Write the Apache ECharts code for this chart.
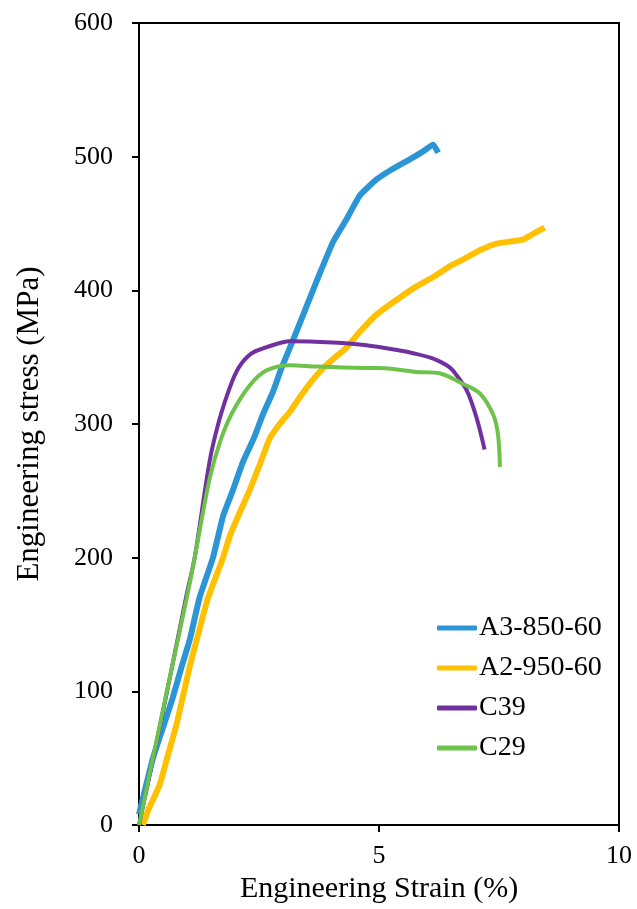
<!DOCTYPE html>
<html>
<head>
<meta charset="utf-8">
<script src="https://cdn.jsdelivr.net/npm/echarts@6/dist/echarts.min.js"></script>
<style>
html,body{margin:0;padding:0;background:#fff;}
#chart{width:637px;height:909px;}
</style>
</head>
<body>
<div id="chart"></div>
<script>
// Engineering strain (%) / stress (MPa)
var seriesNames = ['A3-850-60', 'A2-950-60', 'C39', 'C29'];

var a3Strain = [0, 0.15, 0.29, 0.5, 0.70, 0.9, 1.06, 1.26, 1.54, 1.75, 1.95, 2.17, 2.4, 2.58, 2.79, 2.97, 3.2, 3.49, 3.77, 4.04, 4.32, 4.60, 4.95, 5.29, 5.64, 5.92, 6.13, 6.23];
var a3Stress = [8, 30, 50, 73, 95, 120, 139, 170, 200, 231, 250, 272, 290, 307, 324, 342, 362, 388, 413, 436, 453, 471, 483, 491, 498, 504, 509, 503];

var a2Strain = [0.08, 0.2, 0.43, 0.6, 0.78, 1.06, 1.25, 1.43, 1.75, 1.89, 2.1, 2.31, 2.52, 2.72, 2.93, 3.14, 3.35, 3.62, 3.90, 4.12, 4.32, 4.60, 4.95, 5.37, 5.78, 6.13, 6.47, 6.75, 7.1, 7.45, 8.0, 8.2, 8.45];
var a2Stress = [0, 12, 30, 52, 75, 119, 145, 169, 200, 216, 234, 251, 270, 289, 300, 309, 320, 333, 344, 351, 357, 369, 382, 393, 403, 410, 418, 423, 430, 435, 438, 442, 447];

var c39Strain = [0, 0.5, 0.99, 1.16, 1.47, 1.65, 1.83, 2.0, 2.15, 2.35, 2.7, 3.14, 4.04, 4.74, 5.43, 5.71, 6.13, 6.41, 6.54, 6.83, 7.03, 7.20];
var c39Stress = [0, 85, 172, 200, 272, 300, 321, 337, 346, 353, 358, 362, 361, 359, 355, 353, 349, 344, 340, 325, 305, 281];

var c29Strain = [0, 0.58, 0.99, 1.16, 1.47, 1.7, 1.95, 2.31, 2.65, 3.14, 3.70, 4.74, 5.01, 5.78, 6.26, 6.75, 7.10, 7.38, 7.48, 7.52];
var c29Stress = [0, 100, 169, 200, 259, 288, 309, 329, 340, 344, 343, 342, 342, 339, 338, 330, 323, 307, 292, 268];

var xTicks = [0, 5, 10];
var yTicks = [0, 100, 200, 300, 400, 500, 600];

function pairs(xs, ys) {
  var out = [];
  for (var i = 0; i < xs.length; i++) out.push([xs[i], ys[i]]);
  return out;
}

var font = '"Liberation Serif", "Times New Roman", serif';
var colors = ['#2B95D5', '#FFC000', '#7030A0', '#6DC249'];

var chart = echarts.init(document.getElementById('chart'), null, {renderer: 'canvas'});
chart.setOption({
  animation: false,
  backgroundColor: '#fff',
  color: colors,
  grid: {left: 139, right: 18, top: 23, bottom: 83, show: true, borderColor: '#000', borderWidth: 2, backgroundColor: 'transparent'},
  legend: {
    orient: 'vertical', left: 432, top: 609,
    icon: 'roundRect', itemWidth: 40, itemHeight: 5, itemGap: 12,
    textStyle: {fontFamily: font, fontSize: 28, color: '#000', padding: [0, 0, 0, -3]},
    data: seriesNames
  },
  xAxis: {
    type: 'value', min: xTicks[0], max: xTicks[xTicks.length - 1], interval: 5,
    name: 'Engineering Strain (%)', nameLocation: 'middle', nameGap: 47,
    nameTextStyle: {fontFamily: font, fontSize: 30, color: '#000'},
    axisLine: {show: true, lineStyle: {color: '#000', width: 2}},
    axisTick: {show: true, inside: false, length: 7, lineStyle: {color: '#000', width: 2}},
    axisLabel: {fontFamily: font, fontSize: 26, color: '#000', margin: 18},
    splitLine: {show: false}
  },
  yAxis: {
    type: 'value', min: yTicks[0], max: yTicks[yTicks.length - 1], interval: 100,
    name: 'Engineering stress (MPa)', nameLocation: 'middle', nameGap: 94,
    nameTextStyle: {fontFamily: font, fontSize: 31, color: '#000'},
    axisLine: {show: true, lineStyle: {color: '#000', width: 2}},
    axisTick: {show: true, inside: false, length: 7, lineStyle: {color: '#000', width: 2}},
    axisLabel: {fontFamily: font, fontSize: 26, color: '#000', margin: 26},
    splitLine: {show: false}
  },
  series: [
    {name: seriesNames[0], type: 'line', showSymbol: false, smooth: 0.15, data: pairs(a3Strain, a3Stress), lineStyle: {width: 6}},
    {name: seriesNames[1], type: 'line', showSymbol: false, smooth: 0.15, data: pairs(a2Strain, a2Stress), lineStyle: {width: 6}},
    {name: seriesNames[2], type: 'line', showSymbol: false, smooth: 0.3, data: pairs(c39Strain, c39Stress), lineStyle: {width: 4}},
    {name: seriesNames[3], type: 'line', showSymbol: false, smooth: 0.3, data: pairs(c29Strain, c29Stress), lineStyle: {width: 4}}
  ]
});
</script>
</body>
</html>
